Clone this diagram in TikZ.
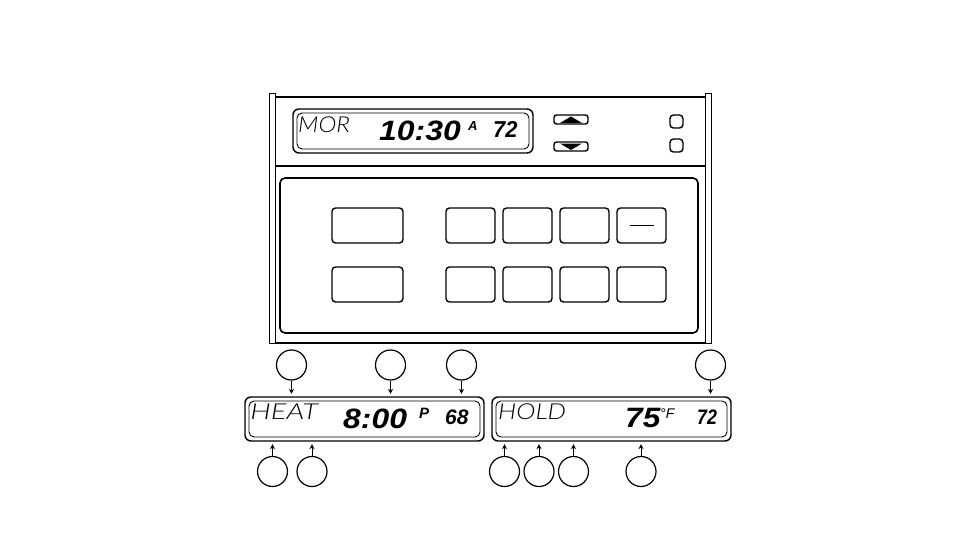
\documentclass[tikz,border=0pt]{standalone}
\usepackage{fontspec}
\usetikzlibrary{arrows.meta}
\newfontfamily\lcdfont{Liberation Sans}
\newfontfamily\lcdthin[ItalicFont={Lato Light Italic}]{Lato Light}
\tikzset{
  heavy/.style={draw,line width=1.6pt},
  key/.style={draw,line width=1.4pt,rounded corners=3.5pt,inner sep=0pt},
  lcdouter/.style={key,rounded corners=6pt,minimum width=239pt,minimum height=44pt},
  lcdinner/.style={draw,line width=0.9pt,rounded corners=5pt,inner sep=0pt,minimum width=231pt,minimum height=36pt},
  callout/.style={circle,draw,line width=1.2pt,inner sep=0pt,minimum size=30pt},
  pointer/.style={line width=1pt,shorten >=2.5pt,-{Stealth[length=5pt,width=5pt]}},
  thin lcd/.style={inner sep=0pt,anchor=base west,font=\lcdthin\itshape\fontsize{#1}{#1}\selectfont},
  bold lcd/.style={inner sep=0pt,anchor=base west,font=\lcdfont\bfseries\itshape\fontsize{#1}{#1}\selectfont},
}
\begin{document}
\begin{tikzpicture}[x=1pt,y=-1pt]
  \useasboundingbox (0,0) rectangle (954,551);
  % Caja del aparato
  \draw[heavy] (275,97) -- (705,97);
  \draw[heavy] (275,166) -- (705,166);
  \draw[heavy] (275,343) -- (705,343);
  \draw[line width=0.8pt] (269,93.5) rectangle (275,343);
  \draw[line width=0.8pt] (705.5,93.5) rectangle (711,343);
  \node[key,line width=1.6pt,rounded corners=5pt,minimum width=418pt,minimum height=155pt] (panel) at (489,255.5) {};
  % Pantalla superior
  \node[lcdouter,minimum width=240pt] (lcdtop) at (413,131) {};
  \node[lcdinner,minimum width=232pt] (lcdtopin) at (413,131) {};
  \node[thin lcd=22,xscale=1.1] (txtmode) at (298,132) {MOR};
  \node[bold lcd=28,xscale=1.14] (txttime) at (379,140) {10:30};
  \node[bold lcd=13] (txtam) at (468,130) {A};
  \node[bold lcd=23,xscale=0.95] (txtroom) at (493,137) {72};
  % Flechas
  \node[key,rounded corners=2.5pt,minimum width=34pt,minimum height=9pt] (btnup) at (571,119.5) {};
  \fill (560,123) -- (571,116.5) -- (582,123) -- cycle;
  \node[key,rounded corners=2.5pt,minimum width=34pt,minimum height=9pt] (btndown) at (571,146.5) {};
  \fill (560,143.5) -- (571,150) -- (582,143.5) -- cycle;
  % Botones
  \node[key,minimum width=13pt,minimum height=13pt] (btnone) at (676.5,121.5) {};
  \node[key,minimum width=13pt,minimum height=13pt] (btntwo) at (676.5,145.5) {};
  \node[key,minimum width=71pt,minimum height=35pt] (btnbigup) at (367.5,225.5) {};
  \node[key,minimum width=71pt,minimum height=35pt] (btnbigdown) at (367.5,284.5) {};
  \foreach \x/\n in {470.5/a,527.5/b,584.5/c,641.5/d}{
    \node[key,minimum width=49pt,minimum height=35pt] (btnup\n) at (\x,225.5) {};
    \node[key,minimum width=49pt,minimum height=35pt] (btndown\n) at (\x,284.5) {};
  }
  \draw[line width=0.7pt] ([xshift=-12pt]btnupd.center) -- ([xshift=12pt]btnupd.center);
  % Pantalla izquierda
  \node[lcdouter] (lcdleft) at (364.5,419) {};
  \node[lcdinner] (lcdleftin) at (364.5,419) {};
  \node[thin lcd=22,xscale=1.33] (txtheat) at (250,419) {HEAT};
  \node[bold lcd=28,xscale=1.14] (txtset) at (343,428) {8:00};
  \node[bold lcd=15] (txtpm) at (419,418) {P};
  \node[bold lcd=21] (txtlow) at (445,424) {68};
  % Pantalla derecha
  \node[lcdouter] (lcdright) at (611.5,419) {};
  \node[lcdinner] (lcdrightin) at (611.5,419) {};
  \node[thin lcd=22,xscale=1.18] (txthold) at (498,419) {HOLD};
  \node[bold lcd=28,xscale=1.13] (txthigh) at (625,427) {75};
  \node[inner sep=0pt,anchor=base west,font=\lcdfont\itshape\fontsize{14}{14}\selectfont] (txtunit) at (660,418) {°F};
  \node[bold lcd=21,xscale=0.85] (txtnow) at (697,424) {72};
  % Circulos de arriba
  \foreach \x/\n/\d in {291.5/a/lcdleft,390.5/b/lcdleft,461.5/c/lcdleft,710.5/d/lcdright}{
    \node[callout] (top\n) at (\x,365) {};
    \draw[pointer] (top\n) -- (top\n |- \d.north);
  }
  % Circulos de abajo
  \foreach \x/\n/\d in {272.5/a/lcdleft,312/b/lcdleft,504.5/c/lcdright,539/d/lcdright,573.5/e/lcdright,641/f/lcdright}{
    \node[callout] (low\n) at (\x,471.5) {};
    \draw[pointer] (low\n) -- (low\n |- \d.south);
  }
\end{tikzpicture}
\end{document}
